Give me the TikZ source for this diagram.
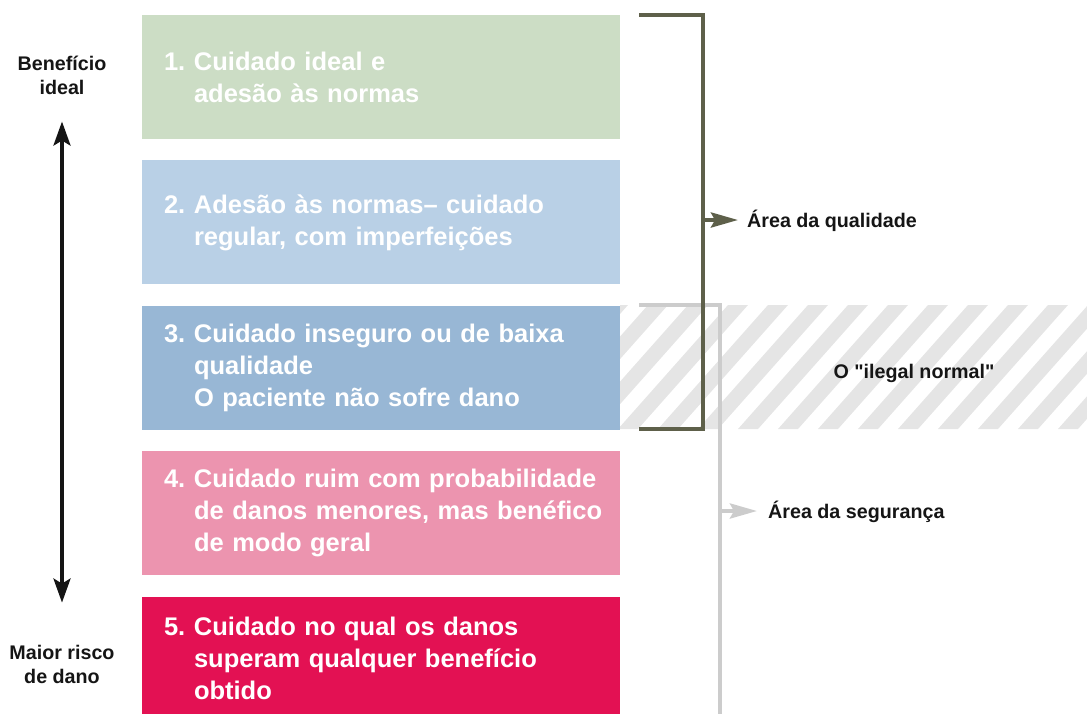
\documentclass[tikz,border=0pt]{standalone}
\usepackage{fontspec}
\setmainfont{Liberation Sans}[Ligatures=TeXOff]
\usetikzlibrary{arrows.meta,positioning}

\definecolor{verde}{HTML}{CCDDC5}
\definecolor{azulclaro}{HTML}{B9D0E6}
\definecolor{azul}{HTML}{98B7D5}
\definecolor{rosa}{HTML}{EC94AF}
\definecolor{carmim}{HTML}{E31153}
\definecolor{oliva}{HTML}{5E604A}
\definecolor{cinza}{HTML}{CCCCCC}
\definecolor{listra}{HTML}{E5E5E5}
\definecolor{texto}{HTML}{151515}

\newcommand{\nivelnum}[2]{\leftskip=52pt\parindent=0pt\noindent\llap{\makebox[30pt][l]{#1}}#2\par}

\begin{document}
\begin{tikzpicture}[x=1pt,y=-1pt,node distance=21pt,
            nivel/.style={rectangle,minimum width=478pt,minimum height=124pt,
                inner sep=0pt,text width=478pt,text=white,
                font=\bfseries\fontsize{25.5}{32}\selectfont},
            rotulo/.style={inner sep=0pt,align=center,text=texto,
                font=\bfseries\fontsize{19.7}{24}\selectfont},
            area/.style={rotulo,anchor=west,text height=14pt,text depth=0pt},
            colchete/.style={line width=4pt},
            seta/.style={-{Stealth[length=27pt,width=15pt,inset=4pt]},line width=4pt},
            eixo/.style={{Stealth[length=24pt,width=17pt,inset=5pt]}-{Stealth[length=24pt,width=17pt,inset=5pt]},
                line width=3.5pt,draw=texto}]
            \useasboundingbox (0,0) rectangle (1087,713);
            \clip (0,0) rectangle (1087,713);

            % niveis de cuidado
            \node[nivel,fill=verde] (n1) at (381,77) {\nivelnum{1.}{Cuidado ideal e\\adesão às normas}};
            \node[nivel,fill=azulclaro] (n2) [below=of n1] {\nivelnum{2.}{Adesão às normas– cuidado\\regular, com imperfeições}};
            \node[nivel,fill=azul] (n3) [below=of n2] {\nivelnum{3.}{Cuidado inseguro ou de baixa\\qualidade\\O paciente não sofre dano}};
            \node[nivel,fill=rosa] (n4) [below=of n3] {\nivelnum{4.}{Cuidado ruim com probabilidade\\de danos menores, mas benéfico\\de modo geral}};
            \node[nivel,fill=carmim] (n5) [below=of n4] {\nivelnum{5.}{Cuidado no qual os danos\\superam qualquer benefício\\obtido}};

            % faixa listrada
            \begin{scope}
                \clip (620,305) rectangle (1087,429);
                \foreach \i in {0,...,15}
                    \fill[listra] (498+40*\i,429) -- ++(20,0) -- ++(110,-124) -- ++(-20,0) -- cycle;
            \end{scope}
            \node[rotulo,text height=14pt,text depth=0pt] (ilegal) at (914,371) {O "ilegal normal"};

            % colchetes
            \draw[colchete,cinza] (639,305) -| (720,720);
            \draw[colchete,oliva] (639,15) -| (703,429) -- (639,429);

            % areas
            \node[area] (qual) at (747,220) {Área da qualidade};
            \node[area] (seg) at (768,511) {Área da segurança};
            \coordinate (qa) at (703,220);
            \coordinate (sa) at (720,511);
            \draw[seta,oliva,shorten >=9pt] (qa) -- (qual);
            \draw[seta,cinza,shorten >=11pt] (sa) -- (seg);

            % eixo da esquerda
            \node[rotulo] (ben) at (62,75) {Benefício\\ideal};
            \node[rotulo] (risco) at (62,664) {Maior risco\\de dano};
            \draw[eixo,shorten <=27pt,shorten >=42pt] (ben) -- (risco);
\end{tikzpicture}
\end{document}
